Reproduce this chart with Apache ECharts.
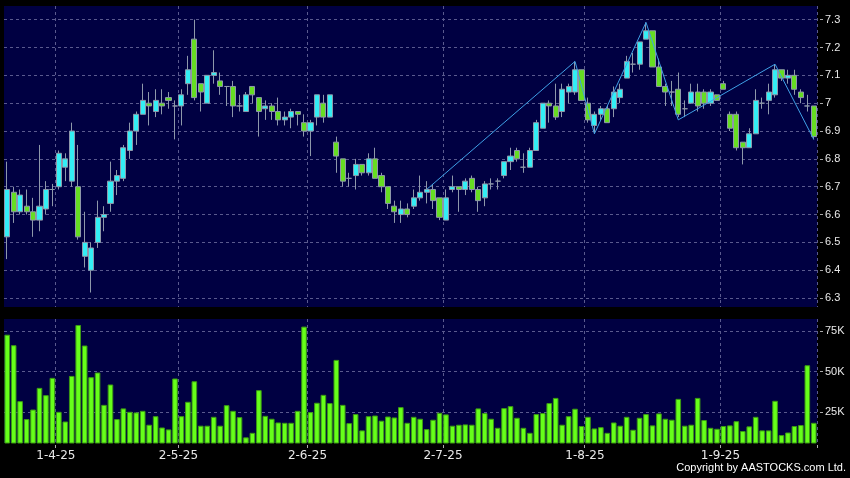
<!DOCTYPE html>
<html><head><meta charset="utf-8">
<script src="https://cdn.jsdelivr.net/npm/echarts@6/dist/echarts.min.js"></script>
<style>html,body{margin:0;padding:0;background:#000;}#c{width:850px;height:478px;}</style>
</head><body><div id="c"></div>
<script>
// trading days (day numbers per month, 2025)
const marDays=[20,21,24,25,26,27,28,31];
const aprDays=[1,2,3,7,8,9,10,11,14,15,16,17,22,23,24,25,28,29,30];
const mayDays=[2,6,7,8,9,12,13,14,15,16,19,20,21,22,23,26,27,28,29,30];
const junDays=[2,3,4,5,6,9,10,11,12,13,16,17,18,19,20,23,24,25,26,27,30];
const julDays=[2,3,4,7,8,9,10,11,14,15,16,17,18,21,22,23,24,25,28,29,30,31];
const augDays=[1,4,5,6,7,8,11,12,13,14,15,18,19,20,21,22,25,26,27,28,29];
const sepDays=[1,2,3,4,5,8,9,10,11,12,15,16,17,18,19];
const dates=[].concat(
  marDays.map(d=>d+'-3-25'),aprDays.map(d=>d+'-4-25'),mayDays.map(d=>d+'-5-25'),
  junDays.map(d=>d+'-6-25'),julDays.map(d=>d+'-7-25'),augDays.map(d=>d+'-8-25'),sepDays.map(d=>d+'-9-25'));
const tickLabels=['1-4-25','2-5-25','2-6-25','2-7-25','1-8-25','1-9-25'];

const opens=[6.52,6.68,6.61,6.63,6.61,6.58,6.62,6.69,6.70,6.77,6.72,6.70,6.45,6.40,6.50,6.59,6.64,6.72,6.73,6.83,
6.90,6.96,7.00,6.97,7.00,7.02,6.99,6.99,7.07,7.23,7.07,7.00,7.10,7.08,7.06,7.06,6.99,6.97,7.06,7.02,
6.98,6.99,6.97,6.94,6.95,6.97,6.93,6.90,6.95,7.00,6.95,6.86,6.80,6.73,6.74,6.78,6.75,6.80,6.74,6.70,
6.63,6.60,6.62,6.63,6.66,6.68,6.69,6.66,6.58,6.69,6.70,6.69,6.73,6.69,6.66,6.71,6.72,6.74,6.79,6.83,
6.77,6.77,6.83,6.91,7.00,6.99,6.97,7.04,7.04,7.12,7.00,6.92,6.96,6.98,6.98,7.02,7.09,7.14,7.14,7.23,
7.26,7.13,7.06,7.04,7.05,6.98,7.00,7.04,7.04,7.00,7.03,7.07,6.96,6.96,6.86,6.84,6.89,7.00,7.01,7.03,
7.12,7.09,7.10,7.04,6.99,6.99];
const closes=[6.69,6.61,6.67,6.61,6.58,6.63,6.69,6.69,6.82,6.80,6.90,6.52,6.50,6.48,6.59,6.60,6.72,6.74,6.84,6.90,
6.96,7.01,6.99,7.01,6.99,7.01,6.99,7.03,7.12,7.02,7.04,7.10,7.11,7.06,7.06,6.99,6.99,7.03,7.03,6.97,
6.99,6.97,6.94,6.95,6.97,6.96,6.90,6.93,7.03,6.95,7.03,6.81,6.72,6.73,6.78,6.75,6.80,6.73,6.70,6.64,
6.61,6.62,6.60,6.66,6.68,6.69,6.65,6.59,6.66,6.70,6.69,6.72,6.69,6.65,6.71,6.71,6.72,6.79,6.81,6.80,
6.77,6.83,6.93,7.00,6.99,6.95,7.05,7.06,7.12,7.01,6.94,6.96,6.98,6.93,7.04,7.05,7.15,7.14,7.22,7.26,
7.13,7.06,7.04,7.04,6.96,6.98,7.04,6.99,7.00,7.04,7.01,7.05,6.91,6.84,6.84,6.89,7.01,7.00,7.04,7.12,
7.09,7.10,7.05,7.02,6.99,6.88];
const lows=[6.44,6.57,6.60,6.60,6.52,6.54,6.60,6.63,6.69,6.72,6.70,6.51,6.41,6.32,6.48,6.54,6.61,6.67,6.72,6.80,
6.85,6.96,6.92,6.95,6.96,6.98,6.87,6.92,7.03,7.01,6.97,7.00,7.07,7.03,6.99,6.95,6.97,6.97,7.00,6.88,
6.94,6.94,6.92,6.92,6.91,6.92,6.88,6.81,6.92,6.93,6.95,6.75,6.70,6.70,6.69,6.74,6.74,6.73,6.68,6.62,
6.57,6.57,6.59,6.62,6.65,6.64,6.62,6.58,6.58,6.68,6.61,6.67,6.68,6.61,6.63,6.69,6.69,6.73,6.76,6.79,
6.75,6.77,6.83,6.91,6.93,6.94,6.95,7.00,7.03,7.01,6.93,6.89,6.94,6.93,6.95,7.00,7.09,7.11,7.12,7.23,
7.13,7.06,6.99,6.99,6.95,6.95,7.00,6.97,6.98,6.99,7.01,7.05,6.90,6.83,6.78,6.84,6.89,6.98,6.96,7.02,
7.08,7.07,7.03,7.00,6.97,6.87];
const highs=[6.79,6.70,6.69,6.69,6.66,6.85,6.72,6.71,6.83,6.82,6.93,6.85,6.61,6.50,6.65,6.63,6.79,6.76,6.85,6.93,
6.97,7.07,7.04,7.05,7.05,7.04,7.01,7.05,7.17,7.30,7.07,7.10,7.19,7.11,7.06,7.08,7.03,7.04,7.06,7.02,
7.01,7.00,7.02,6.97,6.98,6.97,6.96,6.94,7.03,7.03,7.03,6.88,6.80,6.75,6.80,6.78,6.82,6.84,6.75,6.70,
6.65,6.65,6.64,6.69,6.74,6.72,6.71,6.66,6.69,6.74,6.70,6.73,6.74,6.70,6.72,6.73,6.73,6.79,6.84,6.84,
6.82,6.84,6.94,7.00,7.01,7.07,7.07,7.07,7.15,7.12,7.02,6.97,6.99,6.99,7.06,7.07,7.17,7.18,7.22,7.29,
7.26,7.16,7.07,7.08,7.11,7.01,7.07,7.07,7.05,7.05,7.03,7.08,6.97,6.97,6.86,6.91,7.05,7.02,7.07,7.14,
7.12,7.12,7.12,7.05,7.03,6.99];
// volume in thousands
const volumesK=[72.9,66.4,31.8,20.7,26.6,40.0,35.5,46.2,25.2,19.2,47.4,78.9,66.2,46.6,49.5,29.5,42.1,20.7,27.3,25.2,
24.8,25.8,17.2,22.5,15.5,14.3,45.8,22.5,31.4,44.1,16.6,16.6,22.1,16.6,29.3,25.8,21.9,9.4,12.2,38.6,
22.7,20.9,18.6,18.4,18.4,25.8,77.9,25.0,30.8,35.7,30.6,57.3,29.5,18.2,23.8,13.7,22.5,22.9,19.7,22.3,
21.7,28.1,18.4,22.1,20.9,14.5,20.3,24.6,23.6,16.6,17.2,17.4,17.2,27.3,24.4,20.9,15.3,27.5,28.7,21.5,
15.3,12.2,23.8,24.4,30.6,33.8,17.2,22.5,27.1,16.4,22.1,14.9,15.7,12.2,18.6,16.6,22.1,14.1,21.5,23.8,
16.8,24.2,20.9,20.3,33.2,16.6,17.2,33.8,20.1,15.3,14.7,16.4,16.8,19.4,13.3,16.2,22.1,13.7,13.7,32.0,
10.8,12.4,16.4,17.0,54.0,18.4];
// zigzag overlay vertices
const zigIdx=[65,88,91,99,104,119,125];
const zigVals=[6.69,7.15,6.89,7.29,6.94,7.14,6.87];
const priceTicks=[6.3,6.4,6.5,6.6,6.7,6.8,6.9,7.0,7.1,7.2,7.3];
const volTicks=[25000,50000,75000];

const gridLine={show:true,lineStyle:{color:'#5a5a8e',type:[3,3],width:1}};
const isTick=(i,v)=>tickLabels.indexOf(v)>=0;
const labelFont={color:'#e8e8e8',fontFamily:'Liberation Sans',fontSize:11};

const chart=echarts.init(document.getElementById('c'),null,{renderer:'canvas'});
chart.setOption({
  animation:false,
  backgroundColor:'#000000',
  grid:[
    {left:4,right:33,top:6,height:301,show:true,backgroundColor:'#000042',borderWidth:0},
    {left:4,right:33,top:319,height:124,show:true,backgroundColor:'#000042',borderWidth:0}
  ],
  xAxis:[
    {type:'category',gridIndex:0,data:dates,boundaryGap:true,
     axisLine:{show:false},axisTick:{show:false},axisLabel:{show:false},
     splitLine:Object.assign({interval:isTick},gridLine)},
    {type:'category',gridIndex:1,data:dates,boundaryGap:true,
     axisLine:{show:false},offset:2,
     axisTick:{show:true,interval:isTick,length:3,lineStyle:{color:'#aaaaaa'}},
     axisLabel:{show:true,interval:isTick,margin:5,color:'#e8e8e8',fontFamily:'DejaVu Sans',fontSize:12,padding:[0,6,0,0]},
     splitLine:Object.assign({interval:isTick},gridLine)}
  ],
  yAxis:[
    {type:'value',gridIndex:0,position:'right',min:6.268,max:7.349,offset:3,scale:true,
     axisLine:{show:false},
     axisTick:{show:true,customValues:priceTicks,length:3,lineStyle:{color:'#aaaaaa'}},
     axisLabel:{show:true,customValues:priceTicks,margin:5,...labelFont,
       formatter:v=>String(parseFloat(Number(v).toFixed(2)))},
     splitLine:gridLine},
    {type:'value',gridIndex:1,position:'right',min:5900,max:82600,offset:3,
     axisLine:{show:false},
     axisTick:{show:true,customValues:volTicks,length:3,lineStyle:{color:'#aaaaaa'}},
     axisLabel:{show:true,customValues:volTicks,margin:5,...labelFont,
       formatter:v=>Math.round(v/1000)+'K'},
     splitLine:gridLine}
  ],
  series:[
    {type:'candlestick',xAxisIndex:0,yAxisIndex:0,barWidth:5.6,
     data:dates.map((d,i)=>[opens[i],closes[i],lows[i],highs[i]]),
     itemStyle:{color:'#33eef5',color0:'#66dd22',borderColor:'#8e98aa',borderColor0:'#8e98aa',borderWidth:1}},
    {type:'line',xAxisIndex:0,yAxisIndex:0,symbol:'none',
     data:zigIdx.map((i,k)=>[dates[i],zigVals[k]]),
     lineStyle:{color:'#3fa0e6',width:1}},
    {type:'bar',xAxisIndex:1,yAxisIndex:1,barWidth:5.6,
     data:volumesK.map(v=>v*1000),
     itemStyle:{color:'#66ff1a',borderColor:'#3c9a14',borderWidth:1}}
  ],
  graphic:[
    {type:'text',right:4,top:462,style:{text:'Copyright by AASTOCKS.com Ltd.',fill:'#ffffff',font:'11px "Liberation Sans"'}}
  ]
});
</script></body></html>
